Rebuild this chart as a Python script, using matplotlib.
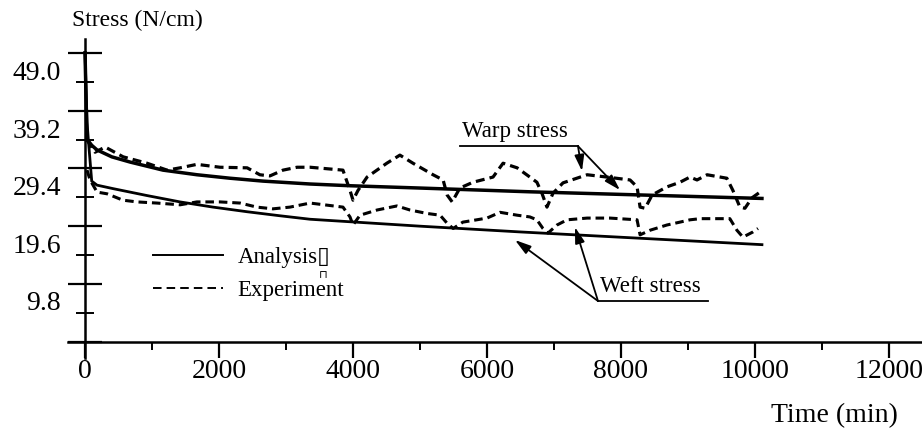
"""
Stress relaxation of coated fabric: warp / weft, analysis vs experiment
"""

import matplotlib
matplotlib.use("Agg")
import matplotlib.pyplot as plt
from matplotlib.lines import Line2D

plt.rcParams['font.family'] = ['Liberation Serif', 'DejaVu Sans']

# ======================================================
# 1. DATA
# ======================================================
# analysis curves (solid)
warp_ana_t = [0, 30, 60, 100, 179, 400, 672, 1164, 1672, 2164, 2657, 3358, 3955,
              5000, 6642, 8300, 10104]
warp_ana_s = [50.0, 35.0, 34.6, 34.0, 33.2, 32.0, 31.1, 29.7, 28.9, 28.3, 27.8, 27.3, 27.0,
              26.6, 25.95, 25.4, 24.8]

weft_ana_t = [0, 30, 50, 100, 179, 418, 925, 1418, 1910, 2418, 2910, 3358, 5000,
              6500, 8300, 10104]
weft_ana_s = [50.0, 38.0, 34.9, 27.8, 27.1, 26.5, 25.3, 24.2, 23.3, 22.5, 21.8, 21.2, 20.0,
              19.0, 17.9, 16.8]

# experiment curves (dashed)
warp_exp_t = [30, 150, 300, 570, 925, 1225, 1420, 1670, 2015, 2420,
              2610, 2760, 2955, 3165, 3360, 3850, 3955, 4000, 4075, 4210,
              4505, 4700, 4895, 5195, 5345, 5405, 5480, 5595, 5790, 6090,
              6240, 6450, 6640, 6745, 6820, 6895, 6985, 7135, 7495, 7790,
              8135, 8240, 8285, 8360, 8465, 8685, 8880, 9030, 9135, 9285,
              9580, 9670, 9775, 9850, 9955, 10075]
warp_exp_s = [34.9, 32.8, 33.7, 32.0, 30.9, 29.7, 30.1, 30.7, 30.2, 30.1,
              28.9, 28.7, 29.7, 30.2, 30.2, 29.7, 26.2, 24.5, 26.2, 28.5,
              30.9, 32.3, 30.9, 28.9, 28.0, 25.4, 24.2, 26.6, 27.6, 28.5,
              30.9, 30.1, 28.5, 27.6, 25.7, 23.3, 25.7, 27.5, 28.9, 28.5,
              28.0, 26.8, 23.3, 23.1, 25.4, 26.8, 27.6, 28.5, 28.0, 28.9,
              28.3, 26.2, 23.3, 23.1, 24.9, 25.9]

weft_exp_t = [30, 75, 180, 330, 565, 775, 1075, 1420, 1670, 2015,
              2315, 2565, 2805, 3060, 3360, 3850, 3955, 4000, 4105, 4360,
              4655, 4850, 5105, 5300, 5405, 5495, 5640, 6000, 6195, 6450,
              6640, 6745, 6835, 6910, 7045, 7195, 7495, 7835, 8240, 8285,
              8435, 8685, 8880, 9030, 9180, 9625, 9730, 9820, 9970, 10045]
weft_exp_s = [29.7, 28.0, 25.9, 25.6, 24.5, 24.2, 24.0, 23.7, 24.2, 24.2,
              24.0, 23.3, 23.0, 23.3, 24.0, 23.3, 21.6, 20.2, 21.9, 22.8,
              23.5, 22.8, 22.2, 21.9, 20.5, 19.6, 20.7, 21.4, 22.4, 21.9,
              21.6, 21.1, 19.6, 18.8, 20.2, 21.1, 21.4, 21.4, 21.1, 18.5,
              19.3, 20.2, 20.7, 21.1, 21.3, 21.3, 19.3, 18.1, 19.0, 19.6]

# axis ticks
x_major = [0, 2000, 4000, 6000, 8000, 10000, 12000]
x_minor = [1000, 3000, 5000, 7000, 9000, 11000]
x_labels = ['0', '2000', '4000', '6000', '8000', '10000', '12000']
y_major = [0, 10, 20, 30, 40, 50]
y_minor = [5, 15, 25, 35, 45]
y_labels = ['9.8', '19.6', '29.4', '39.2', '49.0']
y_label_base = [5.5, 15.3, 25.4, 35.2, 45.3]

legend_labels = ['Analysis\u25af', 'Experiment']

# annotation anchors (label underline end -> arrow tips)
warp_line_x = [5597, 7358]
warp_line_y = 33.86
warp_tips = [(7418, 29.53), (7985, 26.25)]
weft_line_x = [7657, 9298]
weft_line_y = 7.04
weft_tips = [(6418, 17.6), (7313, 19.84)]

# ======================================================
# 2. PLOT
# ======================================================
fig = plt.figure(figsize=(9.22, 4.30), dpi=100)
ax = fig.add_axes([68 / 922, 1 - 358 / 430, 854 / 922, 319 / 430])

dash = (0, (2.8, 1.6))
ax.plot(warp_ana_t, warp_ana_s, color='black', lw=2.5)
ax.plot(weft_ana_t, weft_ana_s, color='black', lw=2.0)
ax.plot(warp_exp_t, warp_exp_s, color='black', lw=2.3, linestyle=dash)
ax.plot(weft_exp_t, weft_exp_s, color='black', lw=2.2, linestyle=dash)

# axes through the origin
for side in ['top', 'right']:
    ax.spines[side].set_visible(False)
ax.spines['left'].set_position(('data', 0))
ax.spines['bottom'].set_position(('data', 0))
ax.spines['left'].set_linewidth(1.8)
ax.spines['bottom'].set_linewidth(1.8)

ax.set_xlim(-254, 12493)
ax.set_ylim(-2.82, 52.4)

ax.set_xticks(x_major)
ax.set_xticks(x_minor, minor=True)
ax.set_xticklabels(x_labels)
ax.tick_params(axis='x', which='major', direction='out', length=11.5, width=1.6,
               pad=1, labelsize=20)
ax.tick_params(axis='x', which='minor', direction='out', length=6, width=1.4)

ax.set_yticks(y_major)
ax.set_yticks(y_minor, minor=True)
ax.tick_params(axis='y', which='major', direction='inout', length=24.5, width=1.6,
               labelleft=False)
ax.tick_params(axis='y', which='minor', direction='inout', length=13, width=1.4)

# y labels sit between the ticks in the original
for base, lab in zip(y_label_base, y_labels):
    ax.text(-0.0082, base, lab, transform=ax.get_yaxis_transform(),
            ha='right', va='baseline', fontsize=20)

fig.text(72 / 922, 1 - 26 / 430, 'Stress (N/cm)', ha='left', va='baseline', fontsize=17)
fig.text(898 / 922, 1 - 422 / 430, 'Time (min)', ha='right', va='baseline', fontsize=20)

# legend
handles = [Line2D([], [], color='black', lw=1.4),
           Line2D([], [], color='black', lw=1.4, linestyle=(0, (4.4, 2.6)))]
ax.legend(handles, legend_labels, loc='center left', bbox_to_anchor=(0.0995, 0.263),
          frameon=False, handlelength=3.05, handletextpad=0.65, labelspacing=0.5,
          borderpad=0, borderaxespad=0, prop={'size': 16.5})
ax.text(3552, 11.5, '\u2293', fontsize=8, family='DejaVu Sans', ha='center', va='center')

# labels with leader lines
arrow = dict(arrowstyle='-|>,head_length=0.6,head_width=0.18', color='black', lw=1.3,
             shrinkA=0, shrinkB=0, mutation_scale=16)
ax.plot(warp_line_x, [warp_line_y] * 2, color='black', lw=1.3)
ax.text(5627, 35.4, 'Warp stress', fontsize=16.5, va='baseline')
for tip in warp_tips:
    ax.annotate('', xy=tip, xytext=(warp_line_x[1], warp_line_y), arrowprops=arrow)

ax.plot(weft_line_x, [weft_line_y] * 2, color='black', lw=1.3)
ax.text(7686, 8.6, 'Weft stress', fontsize=16.5, va='baseline')
for tip in weft_tips:
    ax.annotate('', xy=tip, xytext=(weft_line_x[0], weft_line_y), arrowprops=arrow)

plt.savefig("out.png", dpi=100)
